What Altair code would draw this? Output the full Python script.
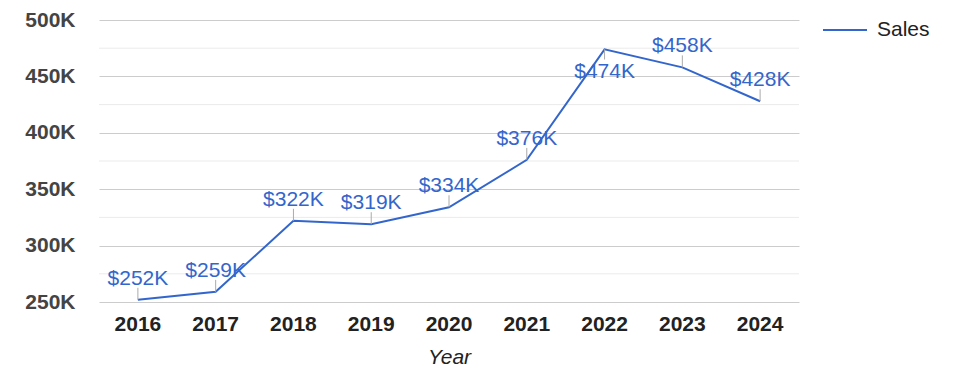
import altair as alt
import pandas as pd

years = ["2016", "2017", "2018", "2019", "2020", "2021", "2022", "2023", "2024"]
sales = [252000, 259000, 322000, 319000, 334000, 376000, 474000, 458000, 428000]
labels_below = ["2022"]
major_ticks = [250000, 300000, 350000, 400000, 450000, 500000]
minor_ticks = [275000, 325000, 375000, 425000, 475000]

FONT = "Liberation Sans"
BLUE = "#3366cc"

df = pd.DataFrame({"Year": years, "Sales": sales, "series": ["Sales"] * len(years)})
df["below"] = df["Year"].isin(labels_below)
minor_df = pd.DataFrame({"v": minor_ticks})

x = alt.X("Year:O", sort=years,
          scale=alt.Scale(paddingInner=0, paddingOuter=0),
          axis=alt.Axis(title="Year", labelAngle=0, labelFont=FONT, labelFontSize=21,
                        labelFontWeight="bold", labelColor="#222222", labelPadding=11,
                        ticks=False, domain=False, grid=False,
                        titleFont=FONT, titleFontSize=21, titleFontStyle="italic",
                        titleFontWeight="normal", titleColor="#222222", titlePadding=12))
yscale = alt.Scale(domain=[250000, 500000], nice=False, zero=False)
yaxis = alt.Axis(title=None, values=major_ticks, labelExpr="format(datum.value/1000,'d')+'K'",
                 labelFont=FONT, labelFontSize=21, labelFontWeight="bold",
                 labelColor="#444444", labelPadding=24, ticks=False, domain=False,
                 gridColor="#cccccc", gridWidth=1)

base = alt.Chart(df)

minor = alt.Chart(minor_df).mark_rule(color="#ebebeb", strokeWidth=1).encode(
    y=alt.Y("v:Q", scale=yscale, axis=yaxis)
)

line = base.mark_line(strokeWidth=2).encode(
    x=x,
    y=alt.Y("Sales:Q", scale=yscale, axis=yaxis),
    color=alt.Color("series:N", scale=alt.Scale(range=[BLUE]),
                    legend=alt.Legend(title=None, orient="none", legendX=723, legendY=-13,
                                      symbolType="stroke", symbolSize=1936, symbolStrokeWidth=2,
                                      labelFont=FONT, labelFontSize=21, labelColor="#222222",
                                      labelOffset=9, padding=0, symbolOffset=0)),
)

stem_up = base.transform_filter("!datum.below").transform_calculate(
    top="datum.Sales + 10600"
).mark_rule(color="#aaaaaa", strokeWidth=1).encode(
    x=alt.X("Year:O", sort=years), y=alt.Y("Sales:Q", scale=yscale), y2="top:Q"
)
stem_down = base.transform_filter("datum.below").transform_calculate(
    bot="datum.Sales - 9000"
).mark_rule(color="#aaaaaa", strokeWidth=1).encode(
    x=alt.X("Year:O", sort=years), y=alt.Y("Sales:Q", scale=yscale), y2="bot:Q"
)

label_calc = "'$' + format(datum.Sales/1000,'d') + 'K'"
text_up = base.transform_filter("!datum.below").transform_calculate(
    lab=label_calc
).mark_text(font=FONT, fontSize=21, color=BLUE, baseline="alphabetic", dy=-15).encode(
    x=alt.X("Year:O", sort=years), y=alt.Y("Sales:Q", scale=yscale), text="lab:N"
)
text_down = base.transform_filter("datum.below").transform_calculate(
    lab=label_calc
).mark_text(font=FONT, fontSize=21, color=BLUE, baseline="alphabetic", dy=29).encode(
    x=alt.X("Year:O", sort=years), y=alt.Y("Sales:Q", scale=yscale), text="lab:N"
)

chart = alt.layer(minor, line, stem_up, stem_down, text_up, text_down).properties(
    width=700, height=282,
    background="white",
    autosize=alt.AutoSizeParams(type="none"),
    padding={"left": 91, "top": 12, "right": 160, "bottom": 70},
).configure_view(stroke=None)

chart.save("out.html", embed_options={"renderer": "svg", "actions": False})
